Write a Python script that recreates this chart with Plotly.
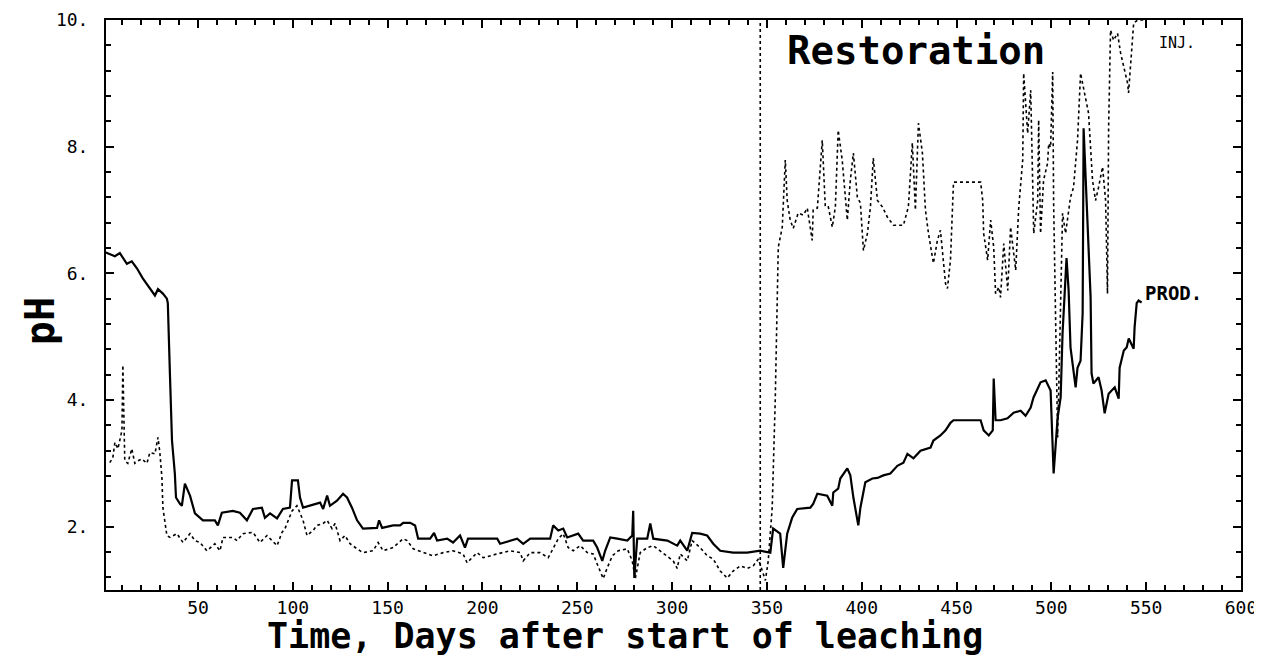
import plotly.graph_objects as go

# ---- data (days after start of leaching, pH) ----
prod_day = [1.4, 6.2, 8.8, 12.5, 15.1, 17.8, 20.9, 23.6, 27.3, 28.9, 31.5, 33.6, 34.1, 35.2, 36.3,
            37.8, 38.4, 40.5, 41.5, 43.1, 45.8, 48.4, 51.0, 52.6, 58.9, 60.5, 62.6, 68.4, 72.1,
            75.8, 79.0, 83.7, 85.3, 88.0, 91.7, 94.8, 98.5, 99.6, 102.7, 103.8, 105.4, 109.1,
            114.4, 116.0, 118.1, 119.6, 123.3, 126.5, 128.6, 131.2, 133.9, 137.0, 140.7, 144.4,
            145.5, 147.1, 152.9, 156.6, 158.2, 161.9, 164.5, 166.1, 172.4, 174.5, 176.1, 181.4,
            184.5, 188.2, 190.8, 192.4, 198.8, 207.8, 209.3, 218.3, 221.5, 225.2, 235.7, 237.3,
            240.0, 242.6, 244.7, 250.5, 253.1, 258.4, 260.5, 263.2, 264.7, 267.4, 271.1, 276.4,
            279.0, 279.5, 280.1, 281.6, 286.9, 288.5, 290.1, 297.5, 302.7, 304.3, 308.0, 310.6,
            314.8, 318.5, 321.7, 325.4, 332.2, 339.6, 346.5, 351.8, 353.3, 357.0, 358.6, 360.7,
            363.3, 366.0, 372.9, 374.4, 376.6, 381.8, 384.5, 385.0, 387.6, 388.7, 392.4, 394.0,
            395.6, 397.7, 398.2, 399.3, 401.9, 405.6, 408.3, 411.4, 415.1, 418.8, 422.0, 424.1,
            427.3, 431.0, 436.3, 437.8, 441.5, 444.2, 446.8, 448.4, 462.7, 464.3, 467.0, 469.1,
            469.6, 470.6, 473.2, 476.9, 480.1, 483.8, 486.4, 489.1, 490.6, 494.3, 497.0, 499.6,
            500.7, 501.2, 503.3, 504.9, 505.9, 508.0, 509.1, 510.1, 512.8, 513.8, 515.4, 516.5,
            517.0, 519.1, 520.7, 521.2, 522.2, 524.9, 526.5, 528.1, 530.2, 533.4, 535.5, 536.0,
            538.2, 539.7, 540.8, 543.4, 543.9, 545.0, 546.0, 547.6]
prod_ph = [6.33, 6.27, 6.32, 6.15, 6.19, 6.08, 5.92, 5.81, 5.65, 5.75, 5.68, 5.60, 5.53, 4.42, 3.36,
           2.84, 2.46, 2.36, 2.33, 2.68, 2.49, 2.21, 2.14, 2.10, 2.10, 2.02, 2.22, 2.25, 2.22,
           2.10, 2.28, 2.30, 2.14, 2.21, 2.13, 2.28, 2.30, 2.73, 2.73, 2.46, 2.30, 2.33,
           2.38, 2.28, 2.49, 2.33, 2.41, 2.52, 2.46, 2.30, 2.10, 1.97, 1.98, 1.98,
           2.10, 1.98, 2.02, 2.02, 2.06, 2.06, 2.02, 1.81, 1.81, 1.90, 1.78, 1.81,
           1.75, 1.86, 1.67, 1.81, 1.81, 1.81, 1.73, 1.81, 1.73, 1.81, 1.81, 2.02,
           1.94, 1.97, 1.83, 1.89, 1.78, 1.78, 1.67, 1.46, 1.62, 1.83, 1.81, 1.78,
           1.86, 2.25, 1.19, 1.81, 1.81, 2.05, 1.81, 1.78, 1.70, 1.78, 1.62, 1.90,
           1.89, 1.86, 1.73, 1.62, 1.59, 1.59, 1.62, 1.59, 1.97, 1.89, 1.35, 1.89,
           2.14, 2.28, 2.30, 2.36, 2.52, 2.49, 2.33, 2.54, 2.60, 2.76, 2.92, 2.81,
           2.46, 2.10, 2.02, 2.30, 2.70, 2.76, 2.77, 2.81, 2.84, 2.96, 3.01, 3.15,
           3.08, 3.20, 3.25, 3.36, 3.44, 3.52, 3.64, 3.68, 3.68, 3.52, 3.44, 3.52,
           4.34, 3.68, 3.68, 3.71, 3.80, 3.83, 3.75, 3.88, 4.04, 4.28, 4.31, 4.15,
           3.25, 2.84, 3.72, 4.04, 5.05, 6.24, 5.73, 4.83, 4.20, 4.51, 4.62, 5.37,
           8.29, 6.73, 5.62, 4.42, 4.26, 4.36, 4.15, 3.79, 4.10, 4.20, 4.02, 4.51,
           4.78, 4.83, 4.97, 4.81, 5.15, 5.53, 5.57, 5.54]

inj_day = [3.5, 5.1, 6.2, 7.8, 9.9, 10.4, 11.4, 13.0, 15.1, 16.7, 18.3, 20.4, 23.1, 24.6, 27.3,
           28.9, 29.9, 31.0, 31.5, 32.6, 33.6, 35.2, 38.9, 42.1, 45.8, 48.4, 51.0, 54.7, 58.9,
           61.6, 63.2, 68.4, 70.6, 73.7, 79.0, 82.7, 86.4, 91.7, 94.3, 95.9, 97.5, 99.6, 102.2,
           105.4, 107.5, 110.7, 112.8, 116.0, 118.1, 120.7, 122.3, 124.9, 127.5, 130.2, 133.9,
           137.0, 142.3, 145.0, 147.6, 152.9, 158.2, 160.3, 163.5, 168.8, 174.0, 179.3, 184.5,
           189.8, 191.9, 197.2, 200.4, 207.8, 214.6, 219.9, 221.5, 225.2, 230.4, 234.7, 237.3,
           240.0, 242.6, 245.2, 247.9, 251.6, 255.3, 258.4, 260.5, 263.7, 265.8, 268.5, 271.6,
           276.4, 279.0, 280.6, 283.2, 286.9, 290.1, 294.8, 297.5, 300.6, 302.7, 304.3, 308.0,
           310.6, 314.8, 318.5, 321.7, 325.4, 329.1, 332.2, 335.9, 339.6, 342.8, 345.5, 347.6,
           349.2, 350.7, 352.8, 354.4, 355.5, 356.0, 358.1, 358.6, 359.7, 360.7, 362.3, 363.9,
           366.5, 369.2, 371.3, 373.9, 374.4, 376.6, 379.2, 380.8, 382.4, 384.5, 386.1, 387.6,
           389.7, 392.4, 394.0, 395.6, 397.7, 399.3, 400.9, 403.0, 404.6, 406.1, 408.3, 410.9,
           413.5, 416.7, 422.0, 424.6, 426.7, 428.3, 429.9, 432.0, 433.6, 435.2, 437.8, 439.9,
           441.5, 444.2, 445.2, 446.8, 448.4, 462.7, 463.8, 464.3, 466.4, 468.0, 469.6, 470.6,
           472.3, 473.2, 474.9, 477.0, 478.5, 481.2, 482.8, 484.9, 485.4, 487.5, 489.1, 490.2,
           490.7, 492.8, 493.3, 494.3, 495.9, 498.0, 498.6, 499.6, 500.7, 501.2, 502.3, 503.3,
           504.0, 505.9, 507.5, 509.1, 510.1, 511.7, 513.8, 515.4, 518.0, 519.6, 521.7, 523.3,
           524.9, 527.0, 528.6, 529.6, 530.2, 531.2, 532.8, 534.9, 536.5, 538.1, 540.2, 540.7,
           541.8, 542.8, 543.4, 545.5, 548.6]
inj_ph = [3.01, 3.09, 3.33, 3.23, 3.52, 4.55, 3.04, 3.00, 3.23, 3.00, 3.04, 3.07, 3.00, 3.17, 3.15,
          3.41, 3.17, 2.77, 2.30, 2.05, 1.86, 1.83, 1.89, 1.75, 1.89, 1.78, 1.75, 1.62, 1.73,
          1.62, 1.83, 1.83, 1.78, 1.89, 1.91, 1.75, 1.86, 1.70, 1.91, 1.97, 2.10, 2.25, 2.33,
          2.10, 1.86, 1.94, 2.02, 2.05, 2.10, 1.97, 2.05, 1.78, 1.86, 1.73, 1.65,
          1.59, 1.62, 1.75, 1.62, 1.67, 1.81, 1.78, 1.65, 1.59, 1.54, 1.59, 1.62,
          1.57, 1.43, 1.59, 1.51, 1.57, 1.62, 1.59, 1.46, 1.59, 1.59, 1.51, 1.67,
          1.81, 1.89, 1.67, 1.62, 1.70, 1.59, 1.57, 1.41, 1.18, 1.35, 1.54, 1.62,
          1.65, 1.46, 1.18, 1.59, 1.67, 1.70, 1.59, 1.54, 1.46, 1.34, 1.57, 1.46,
          1.78, 1.67, 1.54, 1.49, 1.30, 1.19, 1.30, 1.38, 1.34, 1.38, 1.49, 1.30,
          1.15, 1.46, 2.30, 4.00, 5.57, 6.41, 6.73, 7.00, 7.79, 7.15, 6.84, 6.71,
          6.95, 6.92, 7.03, 6.52, 7.00, 7.03, 8.10, 7.05, 7.05, 6.73, 7.05, 8.26,
          7.79, 6.84, 7.47, 7.90, 7.20, 7.11, 6.36, 6.63, 7.05, 7.82, 7.15, 7.05,
          6.89, 6.76, 6.76, 7.05, 8.06, 7.00, 8.37, 7.90, 7.00, 6.63, 6.16, 6.52,
          6.68, 5.84, 5.76, 6.21, 7.44, 7.44, 7.15, 6.63, 6.21, 6.84, 6.41, 5.68,
          5.78, 5.62, 6.47, 5.73, 6.73, 6.05, 7.04, 7.79, 9.16, 8.21, 8.89, 7.36,
          6.63, 7.15, 8.42, 6.63, 7.47, 7.74, 8.05, 7.99, 9.18, 7.11, 5.46, 3.41,
          4.30, 6.95, 6.63, 6.95, 7.20, 7.36, 8.10, 9.16, 8.74, 8.53, 7.47, 7.15,
          7.36, 7.68, 7.15, 5.68, 8.31, 9.84, 9.68, 9.79, 9.48, 9.26, 9.00, 8.85,
          9.26, 9.64, 9.95, 10.0, 10.0]

restoration_start = 346.5
x_tick_vals = [50, 100, 150, 200, 250, 300, 350, 400, 450, 500, 550, 600]
x_tick_text = ["50", "100", "150", "200", "250", "300", "350", "400", "450", "500", "550", "600"]
y_tick_vals = [2, 4, 6, 8, 10]
y_tick_text = ["2.", "4.", "6.", "8.", "10."]

MONO = "DejaVu Sans Mono"

fig = go.Figure()
fig.add_trace(go.Scatter(x=inj_day, y=inj_ph, mode="lines", name="INJ.",
                         line=dict(color="black", width=1.6, dash="dot"), cliponaxis=True))
fig.add_trace(go.Scatter(x=prod_day, y=prod_ph, mode="lines", name="PROD.",
                         line=dict(color="black", width=2.2), cliponaxis=True))

fig.add_shape(type="line", xref="x", yref="paper", x0=restoration_start, x1=restoration_start,
              y0=0, y1=1, line=dict(color="black", width=1.6, dash="dot"))

fig.add_annotation(text="<b>Restoration</b>", xref="paper", yref="paper", x=0.714, y=0.947,
                   xanchor="center", yanchor="middle", showarrow=False,
                   font=dict(family=MONO, size=39, color="black"))
fig.add_annotation(text="INJ.", xref="paper", yref="paper", x=0.944, y=0.96,
                   xanchor="center", yanchor="middle", showarrow=False,
                   font=dict(family=MONO, size=15, color="black"))
fig.add_annotation(text="<b>PROD.</b>", xref="paper", yref="paper", x=0.914, y=0.521,
                   xanchor="left", yanchor="middle", showarrow=False,
                   font=dict(family=MONO, size=19, color="black"))
fig.add_annotation(text="<b>Time, Days after start of leaching</b>", xref="paper", yref="paper",
                   x=0.457, y=-0.0815, xanchor="center", yanchor="middle", showarrow=False,
                   font=dict(family=MONO, size=35, color="black"))
fig.add_annotation(text="<b>pH</b>", xref="paper", yref="paper", x=-0.058, y=0.472,
                   xanchor="center", yanchor="middle", textangle=-90, showarrow=False,
                   font=dict(family=MONO, size=40, color="black"))

axis_common = dict(showgrid=False, zeroline=False, showline=True, linecolor="black", linewidth=2,
                   mirror="ticks", ticks="inside", ticklen=8, tickwidth=2, tickcolor="black",
                   automargin=False, tickfont=dict(family=MONO, size=18, color="black"))
fig.update_xaxes(range=[1.5, 600], tickvals=x_tick_vals, ticktext=x_tick_text,
                 minor=dict(dtick=10, tick0=0, ticks="inside", ticklen=5, tickwidth=2, tickcolor="black"),
                 ticklabelstandoff=0, **axis_common)
fig.update_yaxes(range=[1, 10], tickvals=y_tick_vals, ticktext=y_tick_text,
                 minor=dict(dtick=0.4, tick0=0, ticks="inside", ticklen=5, tickwidth=2, tickcolor="black"),
                 ticklabelstandoff=12, **axis_common)

# the page body adds an 8 px offset, so the figure is sized to keep the plot box in place
fig.update_layout(width=1254, height=649, margin=dict(l=98, r=21, t=12, b=67, autoexpand=False),
                  paper_bgcolor="white", plot_bgcolor="white", showlegend=False,
                  font=dict(family=MONO, color="black"))

fig.write_html("out.html")
